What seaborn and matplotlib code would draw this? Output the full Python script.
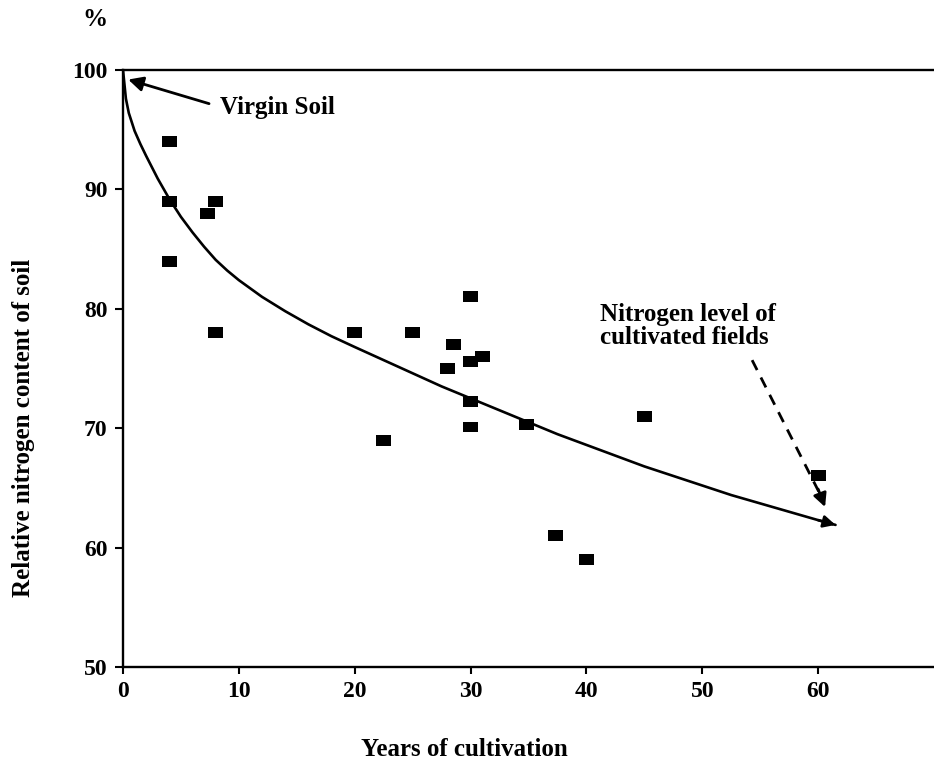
import numpy as np
import pandas as pd
import matplotlib
matplotlib.use("Agg")
import matplotlib.pyplot as plt
import seaborn as sns

# ---- data ----
years = [4, 4, 4, 7.3, 8, 8, 20, 22.5, 25, 28, 28.5, 30, 30, 31, 30, 30, 34.8, 37.3, 40, 45, 60]
nitrogen = [94, 89, 84, 88, 89, 78, 78, 69, 78, 75, 77, 81, 75.6, 76, 72.2, 70.1, 70.3, 61, 59, 71, 66]

curve_x = [0, 0.25, 0.5, 1, 1.5, 2, 3, 4, 5, 6, 7, 8, 9, 10, 12, 14, 16, 18, 20, 22.5, 25,
           27.5, 30, 32.5, 35, 37.5, 40, 42.5, 45, 47.5, 50, 52.5, 55, 57.5, 60, 61.5]
curve_y = [100, 97.6, 96.4, 94.9, 93.8, 92.8, 90.9, 89.2, 87.7, 86.4, 85.2, 84.1, 83.2, 82.4,
           81.0, 79.8, 78.7, 77.7, 76.8, 75.7, 74.6, 73.5, 72.5, 71.5, 70.5, 69.5, 68.6, 67.7,
           66.8, 66.0, 65.2, 64.4, 63.7, 63.0, 62.3, 61.9]

x_ticks = [0, 10, 20, 30, 40, 50, 60]
y_ticks = [50, 60, 70, 80, 90, 100]

sns.set_theme(style="white")
plt.rcParams['font.family'] = ['Liberation Serif', 'DejaVu Serif']
plt.rcParams['font.weight'] = 'bold'
plt.rcParams['text.color'] = 'black'
plt.rcParams['xtick.color'] = 'black'
plt.rcParams['ytick.color'] = 'black'

W, H = 934, 767
fig = plt.figure(figsize=(W / 100, H / 100), dpi=100)
ax = fig.add_axes([123 / W, 1 - 667 / H, (934 - 123) / W, (667 - 70) / H])

pts = pd.DataFrame({"years": years, "nitrogen": nitrogen})
crv = pd.DataFrame({"x": curve_x, "y": curve_y})

sns.lineplot(data=crv, x="x", y="y", sort=False, estimator=None, color="black", lw=1.9, ax=ax)
# arrow head at end of curve
ax.annotate("", xy=(curve_x[-1], curve_y[-1]), xytext=(curve_x[-2], curve_y[-2]),
            arrowprops=dict(arrowstyle="-|>", color="black", lw=1.9, mutation_scale=18,
                            shrinkA=0, shrinkB=0))

rect = [(-1, -0.72), (1, -0.72), (1, 0.72), (-1, 0.72), (-1, -0.72)]
sns.scatterplot(data=pts, x="years", y="nitrogen", marker=rect, s=120, color="black",
                edgecolor="none", linewidth=0, ax=ax, zorder=3)

ax.set_xlim(0, 70)
ax.set_ylim(50, 100)
ax.set_xticks(x_ticks)
ax.set_yticks(y_ticks)
ax.set_xticklabels([str(v) for v in x_ticks], fontsize=17, fontweight="bold", color="black")
ax.set_yticklabels([str(v) for v in y_ticks], fontsize=17, fontweight="bold", color="black")
ax.set_xlabel("")
ax.set_ylabel("")
ax.tick_params(axis="x", direction="out", length=5, width=1.5, pad=5, colors="black", bottom=True)
ax.tick_params(axis="y", direction="out", length=6, width=1.5, pad=5, colors="black", left=True)
for side in ["left", "bottom", "top"]:
    ax.spines[side].set_visible(True)
    ax.spines[side].set_color("black")
    ax.spines[side].set_linewidth(1.7)
ax.spines["right"].set_visible(False)

# Virgin soil annotation
ax.annotate("Virgin Soil", xy=(0.45, 99.2), xytext=(8.4, 96.9), ha="left", va="center",
            fontsize=18, fontweight="bold", color="black",
            arrowprops=dict(arrowstyle="-|>", color="black", lw=2.0, mutation_scale=22,
                            shrinkA=6, shrinkB=0, relpos=(0, 0.5)))

# Nitrogen level annotation
ax.text(41.2, 78.6, "Nitrogen level of\ncultivated fields", ha="left", va="center",
        fontsize=18, fontweight="bold", linespacing=1.0, color="black")
ax.plot([54.3, 60.1], [75.7, 64.6], color="black", lw=2.0, ls=(0, (4, 3)))
ax.annotate("", xy=(60.6, 63.4), xytext=(60.0, 64.9),
            arrowprops=dict(arrowstyle="-|>", color="black", lw=2.0, mutation_scale=20,
                            shrinkA=0, shrinkB=0))

fig.text(95 / W, 1 - 20 / H, "%", ha="center", va="center", fontsize=18, fontweight="bold",
         color="black")
fig.text(24 / W, 1 - 428 / H, "Relative nitrogen content of soil", rotation=90,
         ha="center", va="center", fontsize=18, fontweight="bold", color="black")
fig.text(464 / W, 1 - 750 / H, "Years of cultivation", ha="center", va="center",
         fontsize=18, fontweight="bold", color="black")

fig.savefig("out.png", dpi=100, facecolor="white")
